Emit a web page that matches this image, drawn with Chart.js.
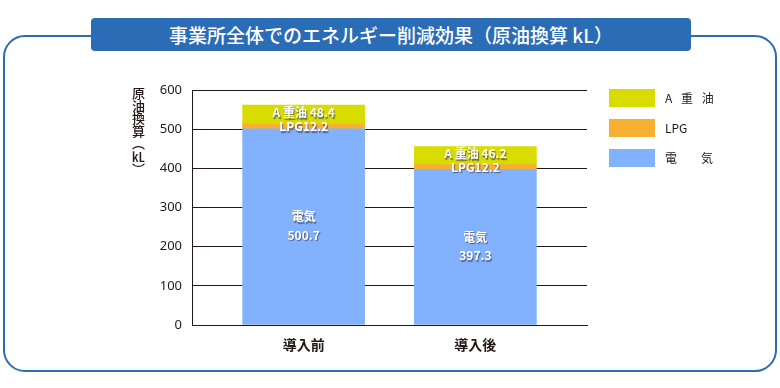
<!DOCTYPE html>
<html lang="ja">
<head>
<meta charset="utf-8">
<script src="https://cdn.jsdelivr.net/npm/chart.js@4/dist/chart.umd.min.js"></script>
<style>
  html, body { margin: 0; padding: 0; background: #fff; }
  #wrap { position: relative; width: 780px; height: 388px; overflow: hidden; font-family: "Noto Sans CJK JP", "Noto Sans", sans-serif; }
  #frame { position: absolute; left: 3px; top: 35px; width: 774px; height: 337px; box-sizing: border-box; border: 2.5px solid #2b6cb6; border-radius: 22px; }
  #title { position: absolute; left: 91px; top: 18px; width: 600px; height: 33px; background: #2b6cb6; border-radius: 4px; color: #fff; font-size: 19px; font-weight: 500; line-height: 33px; text-align: center; letter-spacing: 0px; }
  #chart { position: absolute; left: 0; top: 0; }
  #ytitle { position: absolute; left: 131px; top: 87px; writing-mode: vertical-rl; font-size: 13px; font-weight: 500; color: #231815; line-height: 15px; letter-spacing: -0.5px; }
  #ytitle .tcy { text-combine-upright: all; }
  #legend { position: absolute; left: 609px; top: 89px; }
  .li { position: relative; height: 18px; margin-bottom: 12px; }
  .sw { position: absolute; left: 0; top: 0; width: 46px; height: 18px; }
  .lt { position: absolute; left: 56px; top: 0; line-height: 18px; font-size: 12px; color: #231815; white-space: pre; }
</style>
</head>
<body>
<div id="wrap">
  <div id="frame"></div>
  <canvas id="chart" width="780" height="388"></canvas>
  <div id="title">事業所全体でのエネルギー削減効果（原油換算 kL）</div>
  <div id="ytitle">原油換算（<span class="tcy">kL</span>）</div>
  <div id="legend"></div>
</div>
<script>
// ---- data ----
const categories = ['導入前', '導入後'];
const categoryPositions = [1, 2];
const seriesNames = ['電気', 'LPG', 'A重油'];
const legendLabels = ['電　　気', 'LPG', 'A\u2002 重\u2002 油'];
const denki = [500.7, 397.3];
const lpg = [12.2, 12.2];
const aJuyu = [48.4, 46.2];
const yTicks = [0, 100, 200, 300, 400, 500, 600];
const seriesColors = ['#82b1fe', '#f7b032', '#d8dc00'];

const seriesValues = [denki, lpg, aJuyu];

// HTML legend (top to bottom: A重油, LPG, 電気)
const legend = document.getElementById('legend');
[2, 1, 0].forEach(i => {
  const li = document.createElement('div');
  li.className = 'li';
  li.innerHTML = '<div class="sw" style="background:' + seriesColors[i] + '"></div><div class="lt">' + legendLabels[i] + '</div>';
  legend.appendChild(li);
});

const datasets = seriesValues.map((vals, i) => ({
  label: seriesNames[i],
  data: vals.map((v, j) => ({ x: categoryPositions[j], y: v })),
  backgroundColor: seriesColors[i],
  borderWidth: 0,
  barThickness: 122
}));

const labelPlugin = {
  id: 'barLabels',
  afterDatasetsDraw(chart) {
    const ctx = chart.ctx;
    ctx.save();
    ctx.textAlign = 'center';
    ctx.textBaseline = 'middle';
    ctx.shadowColor = 'rgba(70,70,90,0.75)';
    ctx.shadowOffsetX = 1;
    ctx.shadowOffsetY = 1.5;
    ctx.shadowBlur = 1;
    ctx.fillStyle = '#ffffff';
    chart.data.datasets.forEach((ds, di) => {
      const meta = chart.getDatasetMeta(di);
      meta.data.forEach((el, j) => {
        const v = seriesValues[di][j];
        const cx = el.x;
        const cy = (el.y + el.base) / 2;
        if (di === 0) {
          ctx.font = 'bold 12px "Noto Sans CJK JP"';
          ctx.fillText(seriesNames[0], cx, cy - 10);
          ctx.fillText(v.toFixed(1), cx, cy + 8.5);
        } else if (di === 1) {
          ctx.font = 'bold 12px "Noto Sans CJK JP"';
          ctx.fillText(seriesNames[1] + v.toFixed(1), cx, cy);
        } else {
          ctx.font = 'bold 12px "Noto Sans CJK JP"';
          ctx.fillText('A 重油 ' + v.toFixed(1), cx, cy - 2);
        }
      });
    });
    ctx.restore();
  }
};

new Chart(document.getElementById('chart'), {
  type: 'bar',
  data: { datasets },
  options: {
    responsive: false,
    animation: false,
    events: [],
    layout: { padding: { left: 0, right: 193, top: 90, bottom: 0 } },
    plugins: { legend: { display: false }, tooltip: { enabled: false } },
    scales: {
      x: {
        type: 'linear',
        stacked: true,
        offset: false,
        min: 0.35,
        max: 2.65,
        afterFit(s) { s.height = 63; },
        afterBuildTicks(s) { s.ticks = categoryPositions.map(v => ({ value: v })); },
        ticks: {
          callback(v) { const i = categoryPositions.indexOf(v); return i >= 0 ? categories[i] : ''; },
          color: '#231815',
          font: { family: '"Noto Sans CJK JP"', size: 14, weight: 'bold' },
          padding: 11
        },
        grid: { display: false, drawTicks: false, offset: false },
        border: { display: true, color: '#231815', width: 1 }
      },
      y: {
        stacked: true,
        min: 0,
        max: 600,
        afterFit(s) { s.width = 192; },
        afterBuildTicks(s) { s.ticks = yTicks.map(v => ({ value: v })); },
        ticks: {
          color: '#231815',
          font: { family: '"Noto Sans", sans-serif', size: 13 },
          padding: 10
        },
        grid: { color: '#231815', lineWidth: 1, drawTicks: false },
        border: { display: true, color: '#231815', width: 1 }
      }
    }
  },
  plugins: [labelPlugin]
});
</script>
</body>
</html>
